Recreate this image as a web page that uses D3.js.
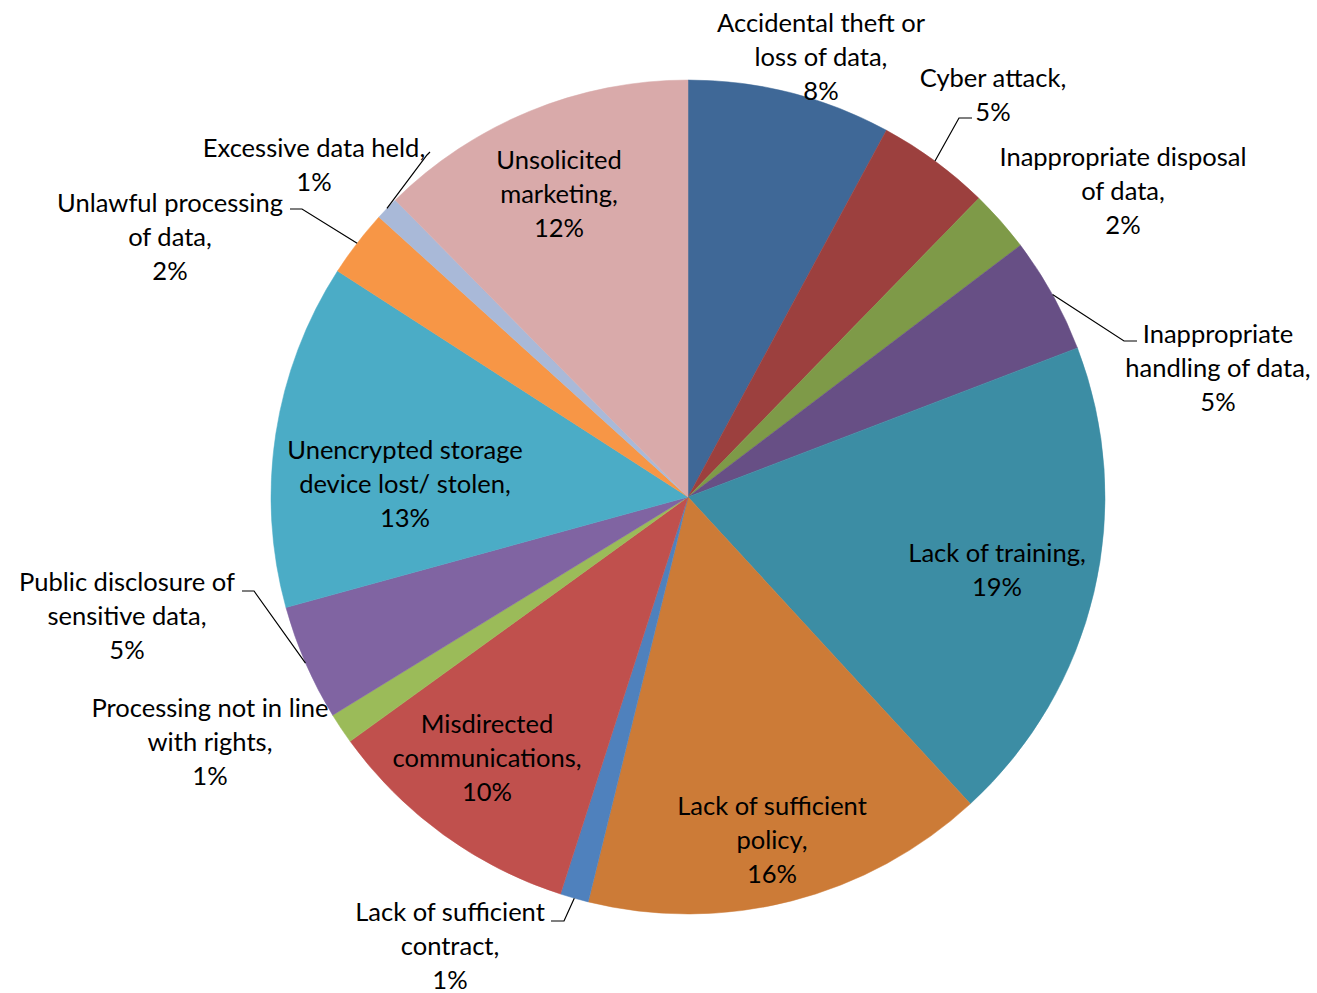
<!DOCTYPE html>
<html>
<head>
<meta charset="utf-8">
<script src="https://cdn.jsdelivr.net/npm/d3@7"></script>
<style>
  html, body { margin: 0; padding: 0; background: #ffffff; }
  svg { display: block; }
</style>
</head>
<body>
<svg id="chart" width="1317" height="993"></svg>
<script>
// ---------- data ----------
const categories = [
  "Accidental theft or loss of data",
  "Cyber attack",
  "Inappropriate disposal of data",
  "Inappropriate handling of data",
  "Lack of training",
  "Lack of sufficient policy",
  "Lack of sufficient contract",
  "Misdirected communications",
  "Processing not in line with rights",
  "Public disclosure of sensitive data",
  "Unencrypted storage device lost/ stolen",
  "Unlawful processing of data",
  "Excessive data held",
  "Unsolicited marketing"
];
const values = [7.9, 4.4, 2.4, 4.5, 19.0, 15.7, 1.1, 10.1, 1.2, 4.5, 13.4, 2.6, 0.9, 12.4];
const percentLabels = ["8%", "5%", "2%", "5%", "19%", "16%", "1%", "10%", "1%", "5%", "13%", "2%", "1%", "12%"];

// ---------- styles ----------
const colors = [
  "#3F6897", "#9C403E", "#7E9A48", "#674F85", "#3C8DA4", "#CC7B37",
  "#4F81BD", "#C0504D", "#9BBB59", "#8064A2", "#4BACC6", "#F79646",
  "#A9B9D8", "#D9AAAA"
];

// ---------- label layout (wrapped lines, position: centre x, first baseline y) ----------
const labelWrap = [
  ["Accidental theft or", "loss of data,"],
  ["Cyber attack,"],
  ["Inappropriate disposal", "of data,"],
  ["Inappropriate", "handling of data,"],
  ["Lack of training,"],
  ["Lack of sufficient", "policy,"],
  ["Lack of sufficient", "contract,"],
  ["Misdirected", "communications,"],
  ["Processing not in line", "with rights,"],
  ["Public disclosure of", "sensitive data,"],
  ["Unencrypted storage", "device lost/ stolen,"],
  ["Unlawful processing", "of data,"],
  ["Excessive data held,"],
  ["Unsolicited", "marketing,"]
];
const labelLayout = [
  { x: 821,  y: 32 },
  { x: 993,  y: 87,  leader: [[959, 118], [972, 118]] },
  { x: 1123, y: 166 },
  { x: 1218, y: 343, leader: [[1124, 341], [1137, 341]] },
  { x: 997,  y: 562 },
  { x: 772,  y: 815 },
  { x: 450,  y: 921, leader: [[564, 921], [551, 921]] },
  { x: 487,  y: 733 },
  { x: 210,  y: 717 },
  { x: 127,  y: 591, leader: [[254, 591], [242, 591]] },
  { x: 405,  y: 459 },
  { x: 170,  y: 212, leader: [[302, 209], [290, 209]] },
  { x: 314,  y: 157, leader: [[427, 155], [430, 152]] },
  { x: 559,  y: 169 }
];
const lineHeight = 34;

// ---------- drawing ----------
const svg = d3.select("#chart");
const cx = 688, cy = 497, R = 417;
const g = svg.append("g").attr("transform", `translate(${cx},${cy})`);

const pie = d3.pie().sort(null).value(d => d);
const arcs = pie(values);
const arc = d3.arc().innerRadius(0).outerRadius(R);

g.selectAll("path.slice")
  .data(arcs)
  .join("path")
  .attr("class", "slice")
  .attr("d", arc)
  .attr("fill", (d, i) => colors[i])
  .attr("stroke", (d, i) => colors[i])
  .attr("stroke-width", 0.5);

// font sizing: fit Lato so that "Lack of training," ≈ 178px wide
const fontFamily = "Lato, 'Open Sans', sans-serif";
const ctx = document.createElement("canvas").getContext("2d");
ctx.font = `100px ${fontFamily}`;
const w100 = ctx.measureText("Lack of training,").width;
const fontSize = Math.min(26, 100 * 178 / w100);

// leader lines
arcs.forEach((a, i) => {
  const L = labelLayout[i];
  if (!L.leader) return;
  const mid = (a.startAngle + a.endAngle) / 2;
  const sx = cx + R * Math.sin(mid), sy = cy - R * Math.cos(mid);
  const pts = [[sx, sy]].concat(L.leader);
  svg.append("path")
    .attr("d", d3.line()(pts))
    .attr("fill", "none")
    .attr("stroke", "#000")
    .attr("stroke-width", 1.2);
});

// labels
const labels = svg.append("g")
  .attr("font-family", fontFamily)
  .attr("font-size", fontSize)
  .attr("fill", "#000")
  .attr("text-anchor", "middle");

categories.forEach((c, i) => {
  const L = labelLayout[i];
  const lines = labelWrap[i].concat([percentLabels[i]]);
  const t = labels.append("text").attr("x", L.x).attr("y", L.y);
  lines.forEach((ln, k) => {
    t.append("tspan").attr("x", L.x).attr("y", L.y + k * lineHeight).text(ln);
  });
});
</script>
</body>
</html>
